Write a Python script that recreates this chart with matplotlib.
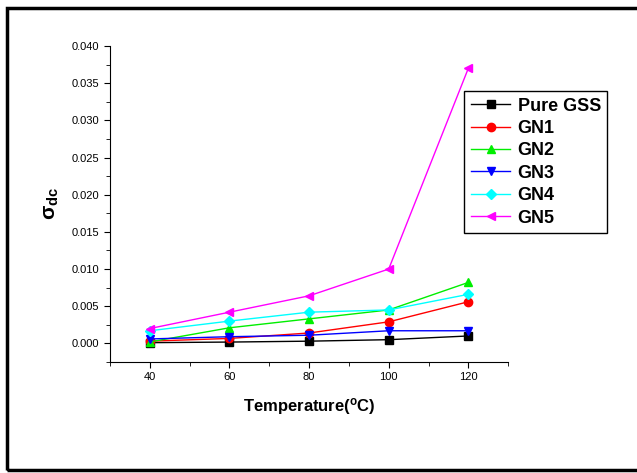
import matplotlib
matplotlib.use("Agg")
import matplotlib.pyplot as plt
from matplotlib.ticker import MultipleLocator
from matplotlib.patches import Rectangle

plt.rcParams['font.family'] = ['Liberation Sans', 'DejaVu Sans']
plt.rcParams['mathtext.fontset'] = 'custom'
plt.rcParams['mathtext.rm'] = 'Liberation Sans:bold'
plt.rcParams['mathtext.it'] = 'Liberation Sans:bold'
plt.rcParams['mathtext.bf'] = 'Liberation Sans:bold'

# Températures et conductivité dc
temps = [40, 60, 80, 100, 120]
pure_gss = [0.0001, 0.00018, 0.0003, 0.0005, 0.0010]
gn1 = [0.0003, 0.00067, 0.0014, 0.0029, 0.0056]
gn2 = [0.0002, 0.0021, 0.0033, 0.0045, 0.0082]
gn3 = [0.0006, 0.0009, 0.0011, 0.0017, 0.0017]
gn4 = [0.0017, 0.0030, 0.0042, 0.0045, 0.0066]
gn5 = [0.0020, 0.0042, 0.0064, 0.0100, 0.0370]

series = [
    ("Pure GSS", pure_gss, "black", "s"),
    ("GN1", gn1, "red", "o"),
    ("GN2", gn2, "#00ee00", "^"),
    ("GN3", gn3, "blue", "v"),
    ("GN4", gn4, "cyan", "D"),
    ("GN5", gn5, "magenta", "<"),
]

fig = plt.figure(figsize=(6.37, 4.73), dpi=100)
ax = fig.add_axes([0.1727, 0.2347, 0.625, 0.668])

for name, vals, col, mk in series:
    ms = 6 if mk != "D" else 5.5
    ax.plot(temps, vals, color=col, marker=mk, markersize=ms, linewidth=1, label=name)

ax.set_xlim(30, 130)
ax.set_ylim(-0.0025, 0.040)
ax.xaxis.set_major_locator(MultipleLocator(20))
ax.xaxis.set_minor_locator(MultipleLocator(10))
ax.yaxis.set_major_locator(MultipleLocator(0.005))
ax.yaxis.set_minor_locator(MultipleLocator(0.0025))
ax.set_xticks([40, 60, 80, 100, 120])
ax.yaxis.set_major_formatter(matplotlib.ticker.FormatStrFormatter('%.3f'))
ax.tick_params(which="both", direction="out", labelsize=8)
ax.tick_params(which="major", length=4)
ax.tick_params(which="minor", length=3)
for s in ["top", "right"]:
    ax.spines[s].set_visible(False)

ax.set_xlabel("Temperature($^{o}$C)", fontsize=12, fontweight="bold", labelpad=10)
ax.set_ylabel(r"$\sigma_{dc}$", fontsize=15, labelpad=8)

leg = ax.legend(loc="upper left", bbox_to_anchor=(0.89, 0.857),
                prop={"weight": "bold", "size": 13}, fancybox=False,
                edgecolor="black", framealpha=1, handlelength=2.2,
                handletextpad=0.4, labelspacing=0.3, borderpad=0.35,
                borderaxespad=0)
leg.get_frame().set_linewidth(1)

fig.patches.append(Rectangle((7 / 637, 3 / 473), 1.2, 462 / 473, transform=fig.transFigure,
                             fill=False, edgecolor="black", linewidth=2.5))

fig.savefig("out.png", dpi=100)
